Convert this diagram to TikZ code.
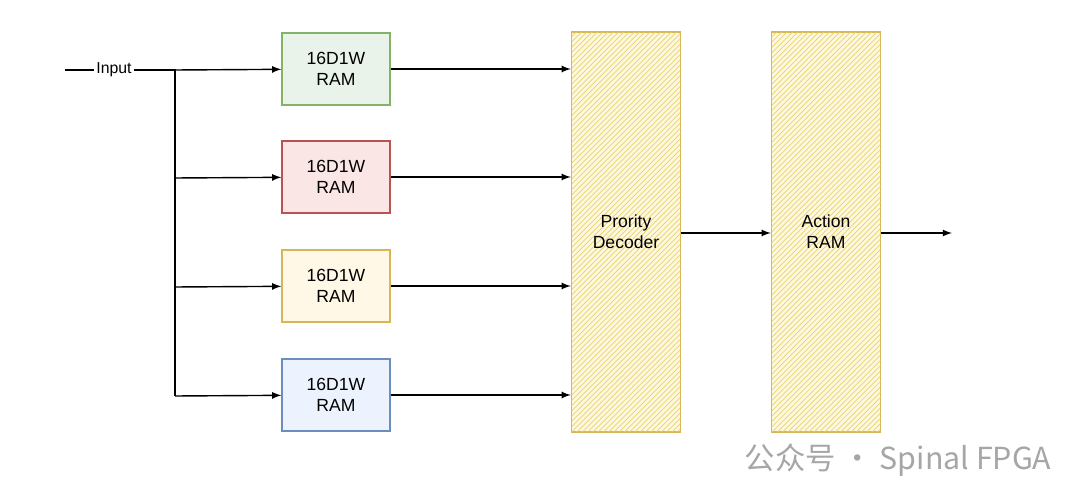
\documentclass[tikz,border=0pt]{standalone}
\usepackage{fontspec}
\setmainfont{Liberation Sans}
\newfontfamily\cjk{Noto Sans CJK SC}
\usetikzlibrary{positioning,patterns}
\definecolor{gfill}{HTML}{D5E8D4}\definecolor{gline}{HTML}{82B366}
\definecolor{rfill}{HTML}{F8CECC}\definecolor{rline}{HTML}{B85450}
\definecolor{yfill}{HTML}{FFF2CC}\definecolor{yline}{HTML}{D6B656}
\definecolor{bfill}{HTML}{DAE8FC}\definecolor{bline}{HTML}{6C8EBF}
\definecolor{hatch}{HTML}{E6D56A}
\begin{document}
\begin{tikzpicture}
[x=0.02cm,y=-0.02cm,
  ramdecorate/.style={draw,thick,minimum width=2.16cm,minimum height=1.44cm,
    align=center,font=\normalsize},
  bigdecorate/.style={draw=yline,thick,minimum width=2.18cm,minimum height=8cm,
    align=center,font=\normalsize,fill=yfill!60,
    postaction={pattern=north east lines,pattern color=hatch}},
  linedecorate/.style={-latex,thick}]
\useasboundingbox (0,0) rectangle (1080,503);
% input and fan-out
\node (in) at (114,70) [font=\small,inner sep=1pt] {Input};
\coordinate (s) at (65,70);
\coordinate (j0) at (175,70);
\coordinate (j1) at (175,178);
\coordinate (j2) at (175,287);
\coordinate (j3) at (175,396);
% RAM blocks
\node (r0) at (336,69) [ramdecorate,draw=gline,fill=gfill!50] {16D1W\\RAM};
\node (r1) at (336,177) [ramdecorate,draw=rline,fill=rfill!50] {16D1W\\RAM};
\node (r2) at (336,286) [ramdecorate,draw=yline,fill=yfill!50] {16D1W\\RAM};
\node (r3) at (336,395) [ramdecorate,draw=bline,fill=bfill!50] {16D1W\\RAM};
% decoder and action ram
\node (pd) at (626,232) [bigdecorate] {Prority\\Decoder};
\node (ar) at (826,232) [bigdecorate] {Action\\RAM};
\coordinate (out) at (952,233);
% edges
\draw[thick] (s) -- (in.west) (in.east) -- (j0) -- (j3);
\foreach \i in {0,...,3} {
  \draw[linedecorate] (j\i) -- (r\i);
  \draw[linedecorate] (r\i.east) -- (r\i.east -| pd.west);
}
\draw[linedecorate] (pd.east |- 0,233) -- (ar.west |- 0,233);
\draw[linedecorate] (ar.east |- 0,233) -- (out);
% watermark
\node (wm) at (898,460) [text=gray!70,font=\cjk\LARGE] {公众号 · Spinal FPGA};
\end{tikzpicture}
\end{document}
